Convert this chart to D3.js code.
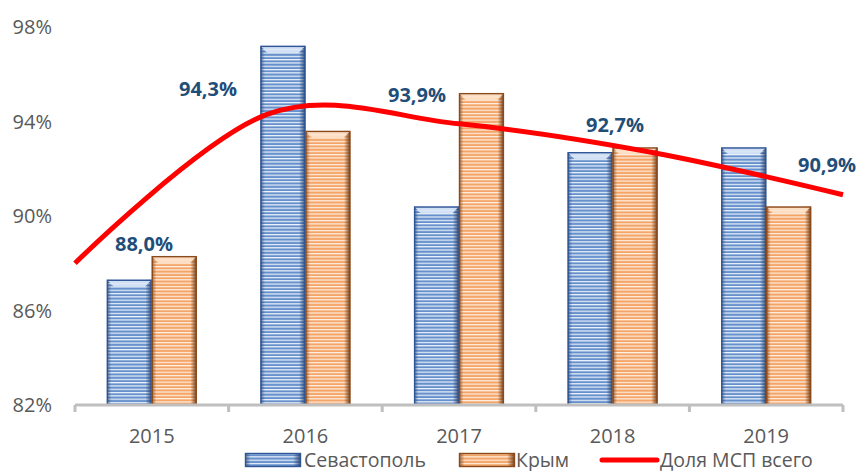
<!DOCTYPE html>
<html>
<head>
<meta charset="utf-8">
<script src="https://cdn.jsdelivr.net/npm/d3@7"></script>
<style>
  body { margin: 0; background: #fff; }
  svg { display: block; font-family: "Open Sans", "Noto Sans", sans-serif; }
  .tick-label { fill: #595959; font-size: 20px; }
  .legend-label { fill: #595959; font-size: 19.5px; }
  .data-label { fill: #1F4E79; font-size: 20px; font-weight: bold; }
</style>
</head>
<body>
<svg id="chart" width="857" height="471"></svg>
<script>
// chart data
const years = ["2015", "2016", "2017", "2018", "2019"];
const sevastopol = [87.3, 97.2, 90.4, 92.7, 92.9];
const crimea = [88.3, 93.6, 95.2, 92.9, 90.4];
const shareTotal = [88.0, 94.3, 93.9, 92.7, 90.9];
const yTicks = [82, 86, 90, 94, 98];
const seriesNames = ["Севастополь", "Крым", "Доля МСП всего"];

// label nudges (px) relative to each line point, as placed in the original
const labelShift = [[69, -12], [-59, -18], [-42, -22], [-36, -20], [-16, -23]];

const width = 857, height = 471;
const margin = {left: 75, right: 14, top: 27, bottom: 66};
const plotW = width - margin.left - margin.right;
const plotH = height - margin.top - margin.bottom;

const svg = d3.select("#chart");
const defs = svg.append("defs");

// striped fills with a light bevel look
function stripes(id, base, light) {
    const p = defs.append("pattern")
        .attr("id", id)
        .attr("patternUnits", "userSpaceOnUse")
        .attr("width", 6).attr("height", 3.3);
    p.append("rect").attr("width", 6).attr("height", 3.3).attr("fill", light);
    p.append("rect").attr("y", 1.2).attr("width", 6).attr("height", 2.1).attr("fill", base);
}
stripes("stripe-blue", "#6690CC", "#EEF4FB");
stripes("stripe-orange", "#F4A466", "#FDF0E4");

function sideGrad(id, dark) {
    const g = defs.append("linearGradient").attr("id", id)
        .attr("x1", 0).attr("x2", 1).attr("y1", 0).attr("y2", 0);
    g.append("stop").attr("offset", "0%").attr("stop-color", dark).attr("stop-opacity", 0.6);
    g.append("stop").attr("offset", "10%").attr("stop-color", dark).attr("stop-opacity", 0);
    g.append("stop").attr("offset", "86%").attr("stop-color", dark).attr("stop-opacity", 0);
    g.append("stop").attr("offset", "100%").attr("stop-color", dark).attr("stop-opacity", 0.85);
}
sideGrad("side-blue", "#1F3864");
sideGrad("side-orange", "#5A2A08");

const g = svg.append("g").attr("transform", `translate(${margin.left},${margin.top})`);

const x = d3.scaleBand().domain(years).range([0, plotW]).paddingInner(0).paddingOuter(0);
const xInner = d3.scaleBand().domain([0, 1]).range([0, x.bandwidth()]).paddingOuter(0.71).paddingInner(0);
const y = d3.scaleLinear().domain([82, 98]).range([plotH, 0]);
const xLine = d3.scalePoint().domain(years).range([0, plotW]);

// y axis labels
g.selectAll(".ylab").data(yTicks).join("text")
    .attr("class", "tick-label")
    .attr("x", -23).attr("y", d => y(d)).attr("dy", "0.35em")
    .attr("text-anchor", "end")
    .text(d => d + "%");

// bars
const series = [
    {values: sevastopol, fill: "url(#stripe-blue)", stroke: "#2F5597", side: "url(#side-blue)", top: "#DCE8F7"},
    {values: crimea, fill: "url(#stripe-orange)", stroke: "#8A4A1C", side: "url(#side-orange)", top: "#FDE3CC"}
];
const bw = xInner.bandwidth();
series.forEach((s, si) => {
    const bars = g.append("g").selectAll("g").data(s.values).join("g")
        .attr("transform", (d, i) => `translate(${x(years[i]) + xInner(si)},${y(d)})`);
    bars.append("rect")
        .attr("width", bw).attr("height", d => plotH - y(d))
        .attr("fill", s.fill);
    bars.append("rect")
        .attr("width", bw).attr("height", d => plotH - y(d))
        .attr("fill", s.side);
    // top bevel
    bars.append("path")
        .attr("d", `M0,0 L${bw},0 L${bw - 7},7 L7,7 Z`)
        .attr("fill", s.top).attr("opacity", 0.9);
    bars.append("rect")
        .attr("x", 0.5).attr("y", 0.5)
        .attr("width", bw - 1).attr("height", d => plotH - y(d) - 0.5)
        .attr("fill", "none").attr("stroke", s.stroke).attr("stroke-width", 1.4);
});

// x axis
const axisG = g.append("g").attr("transform", `translate(0,${plotH})`);
axisG.append("line").attr("x1", 0).attr("x2", plotW)
    .attr("stroke", "#BFBFBF").attr("stroke-width", 3);
const boundaries = years.map(d => x(d)).concat([plotW]);
axisG.selectAll(".tk").data(boundaries).join("line")
    .attr("x1", d => d).attr("x2", d => d).attr("y1", 0).attr("y2", 7)
    .attr("stroke", "#BFBFBF").attr("stroke-width", 3);
axisG.selectAll(".xlab").data(years).join("text")
    .attr("class", "tick-label")
    .attr("x", d => x(d) + x.bandwidth() / 2).attr("y", 38)
    .attr("text-anchor", "middle")
    .text(d => d);

// total share line
const line = d3.line()
    .x((d, i) => xLine(years[i]))
    .y(d => y(d))
    .curve(d3.curveCatmullRom.alpha(0));
g.append("path")
    .datum(shareTotal)
    .attr("d", line)
    .attr("fill", "none").attr("stroke", "#FF0000").attr("stroke-width", 5)
    .attr("stroke-linecap", "butt");

g.selectAll(".data-label").data(shareTotal).join("text")
    .attr("class", "data-label")
    .attr("x", (d, i) => xLine(years[i]) + labelShift[i][0])
    .attr("y", (d, i) => y(d) + labelShift[i][1])
    .attr("text-anchor", "middle")
    .text(d => d.toFixed(1).replace(".", ",") + "%");

// legend
const legend = svg.append("g").attr("transform", "translate(245,453)");
function legendBar(gx, s) {
    const lg = legend.append("g").attr("transform", `translate(${gx},0)`);
    lg.append("rect").attr("width", 56).attr("height", 14).attr("fill", s.fill);
    lg.append("rect").attr("width", 56).attr("height", 14).attr("fill", s.side);
    lg.append("rect").attr("x", 0.5).attr("y", 0.5).attr("width", 55).attr("height", 13)
        .attr("fill", "none").attr("stroke", s.stroke).attr("stroke-width", 1.4);
}
legendBar(0, series[0]);
legend.append("text").attr("class", "legend-label").attr("x", 59).attr("y", 13.5).text(seriesNames[0]);
legendBar(214, series[1]);
legend.append("text").attr("class", "legend-label").attr("x", 271).attr("y", 13.5).text(seriesNames[1]);
legend.append("line").attr("x1", 357).attr("x2", 412).attr("y1", 7).attr("y2", 7)
    .attr("stroke", "#FF0000").attr("stroke-width", 5).attr("stroke-linecap", "round");
legend.append("text").attr("class", "legend-label").attr("x", 415).attr("y", 13.5).text(seriesNames[2]);
</script>
</body>
</html>
